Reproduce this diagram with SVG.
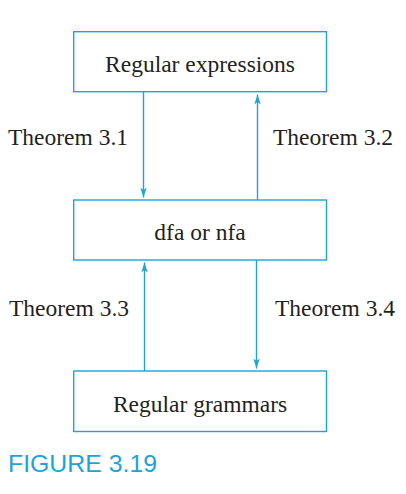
<svg xmlns="http://www.w3.org/2000/svg" width="406" height="494" viewBox="0 0 406 494">
<defs>
<style>
.box{fill:#fff;stroke:#1ea3d8;stroke-width:1.4}
.lbl{font-family:"Liberation Serif",serif;font-size:23.5px;fill:#231f20}
.edge{stroke:#1ea3d8;stroke-width:1.4;fill:none}
.cap{font-family:"Liberation Sans",sans-serif;font-size:24px;fill:#1ea3d8}
</style>
<marker id="ah" markerUnits="userSpaceOnUse" viewBox="-10 -4 11 8" refX="0" refY="0" markerWidth="11" markerHeight="8" orient="auto">
<path d="M0,0 L-10,-3.2 L-7.5,0 L-10,3.2 Z" fill="#1ea3d8"/>
</marker>
</defs>
<rect width="406" height="494" fill="#fff"/>
<g id="connectors">
<line class="edge" x1="143.5" y1="92" x2="143.5" y2="197.5" marker-end="url(#ah)"/>
<line class="edge" x1="257.5" y1="200" x2="257.5" y2="94.5" marker-end="url(#ah)"/>
<line class="edge" x1="144.5" y1="371" x2="144.5" y2="262.5" marker-end="url(#ah)"/>
<line class="edge" x1="256.5" y1="260" x2="256.5" y2="368.5" marker-end="url(#ah)"/>
<text class="lbl" x="8" y="145">Theorem 3.1</text>
<text class="lbl" x="273" y="145">Theorem 3.2</text>
<text class="lbl" x="9" y="316">Theorem 3.3</text>
<text class="lbl" x="275" y="316">Theorem 3.4</text>
</g>
<g id="regex">
<rect class="box" x="73.7" y="31.7" width="252.8" height="60"/>
<text class="lbl" x="200" y="72" text-anchor="middle">Regular expressions</text>
</g>
<g id="fa">
<rect class="box" x="73.7" y="200" width="252.8" height="60"/>
<text class="lbl" x="200" y="240" text-anchor="middle">dfa or nfa</text>
</g>
<g id="grammars">
<rect class="box" x="73.7" y="371" width="252.8" height="60.5"/>
<text class="lbl" x="200" y="412" text-anchor="middle">Regular grammars</text>
</g>
<text class="cap" x="8" y="472" textLength="149" lengthAdjust="spacingAndGlyphs">FIGURE 3.19</text>
</svg>
